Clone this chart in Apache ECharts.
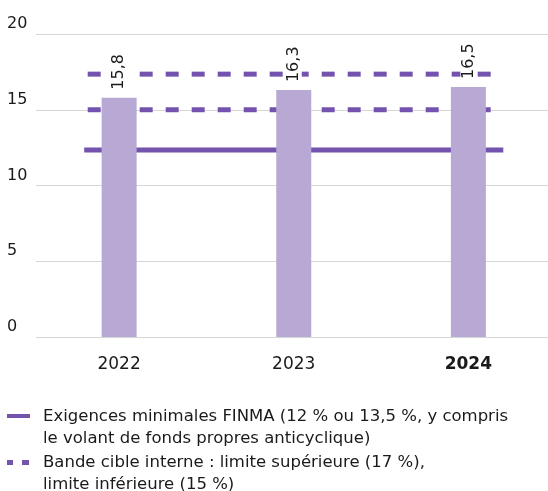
<!DOCTYPE html>
<html lang="fr">
<head>
    <meta charset="UTF-8">
    <title>Ratio de fonds propres</title>
    <script src="https://cdn.jsdelivr.net/npm/echarts@6/dist/echarts.min.js"></script>
    <style>
        html, body { margin: 0; padding: 0; background: #fff; }
        #chart { width: 548px; height: 491px; }
    </style>
</head>
<body>
    <div id="chart"></div>

    <script>
        // données
        var years = ['2022', '2023', '2024'];
        var ratios = [15.8, 16.3, 16.5];
        var finmaMin = [12.35, 12.35];
        var bandUpper = [17.35, 17.35];
        var bandLower = [15, 15];
        var yTicks = [0, 5, 10, 15, 20];
        var legendTexts = [
            'Exigences minimales FINMA (12 % ou 13,5 %, y compris\nle volant de fonds propres anticyclique)',
            'Bande cible interne : limite supérieure (17 %),\nlimite inférieure (15 %)'
        ];

        var purple = '#7453af';
        var lilac = '#b8a8d4';
        var ink = '#1a1a1a';
        var font = '"DejaVu Sans", "Noto Sans", sans-serif';

        var yearIdx = years.map(function (y, i) { return i; });

        // les lignes dépassent un peu les barres extrêmes
        function hline(values, overhang) {
            var last = years.length - 1;
            return [[0 - overhang, values[0]], [last + overhang, values[1]]];
        }

        var chart = echarts.init(document.getElementById('chart'), null, { renderer: 'canvas' });

        var option = {
            animation: false,
            backgroundColor: '#fff',
            textStyle: { fontFamily: font },
            grid: { left: 36, right: 0, top: 34, bottom: 154 },
            xAxis: {
                type: 'value',
                // l'axe des années ne remplit pas toute la largeur de la grille
                min: -0.476,
                max: 2.456,
                splitLine: { show: false },
                axisLine: { show: false },
                axisTick: { show: false },
                axisLabel: {
                    customValues: yearIdx,
                    margin: 19,
                    fontSize: 17,
                    color: ink,
                    fontFamily: font,
                    formatter: function (v) {
                        var i = Math.round(v);
                        return i === years.length - 1 ? '{b|' + years[i] + '}' : years[i];
                    },
                    rich: { b: { fontWeight: 'bold', fontSize: 17, color: ink, fontFamily: font } }
                }
            },
            yAxis: {
                type: 'value',
                min: yTicks[0],
                max: yTicks[yTicks.length - 1],
                interval: 5,
                axisLine: { show: false },
                axisTick: { show: false },
                splitLine: { lineStyle: { color: '#d6d6d6', width: 1 } },
                axisLabel: {
                    align: 'left',
                    margin: 29,
                    verticalAlign: 'bottom',
                    padding: [0, 0, 2, 0],
                    fontSize: 16,
                    color: ink,
                    fontFamily: font
                }
            },
            series: [
                {
                    name: 'finma',
                    type: 'line',
                    data: hline(finmaMin, 0.2),
                    symbol: 'none',
                    silent: true,
                    z: 2,
                    lineStyle: { color: purple, width: 5 }
                },
                {
                    name: 'bandeHaut',
                    type: 'line',
                    data: hline(bandUpper, 0.18),
                    symbol: 'none',
                    silent: true,
                    z: 2,
                    lineStyle: { color: purple, width: 5, type: [13, 13] }
                },
                {
                    name: 'bandeBas',
                    type: 'line',
                    data: hline(bandLower, 0.18),
                    symbol: 'none',
                    silent: true,
                    z: 2,
                    lineStyle: { color: purple, width: 5, type: [13, 13] }
                },
                {
                    name: 'ratio',
                    type: 'bar',
                    data: ratios.map(function (v, i) { return [i, v]; }),
                    barWidth: 35,
                    z: 3,
                    itemStyle: { color: lilac },
                    label: {
                        show: true,
                        position: 'top',
                        rotate: 90,
                        align: 'left',
                        verticalAlign: 'middle',
                        distance: 6,
                        padding: [0, 2],
                        backgroundColor: '#fff',
                        fontSize: 16,
                        color: ink,
                        fontFamily: font,
                        formatter: function (p) {
                            return String(p.value[1]).replace('.', ',');
                        }
                    }
                }
            ],
            graphic: [
                { type: 'rect', left: 7, top: 414, shape: { width: 23, height: 4 }, style: { fill: purple } },
                {
                    type: 'text', left: 43, top: 406,
                    style: { text: legendTexts[0], font: '16.5px ' + font, fill: ink, lineHeight: 21.5 }
                },
                { type: 'rect', left: 7, top: 460, shape: { width: 6, height: 5 }, style: { fill: purple } },
                { type: 'rect', left: 22, top: 460, shape: { width: 7, height: 5 }, style: { fill: purple } },
                {
                    type: 'text', left: 43, top: 452,
                    style: { text: legendTexts[1], font: '16.5px ' + font, fill: ink, lineHeight: 21.5 }
                }
            ]
        };

        chart.setOption(option);
    </script>
</body>
</html>
